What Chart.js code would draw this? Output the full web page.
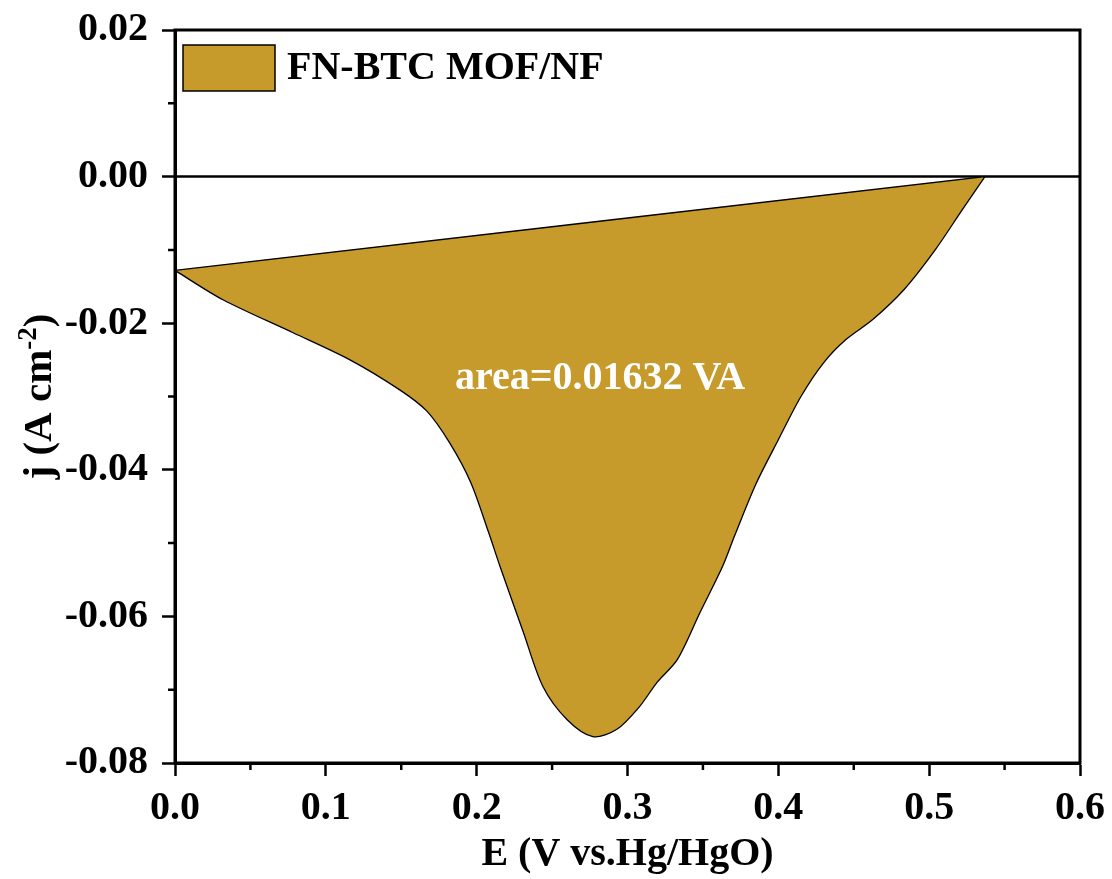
<!DOCTYPE html>
<html>
<head>
<meta charset="utf-8">
<script src="https://cdn.jsdelivr.net/npm/chart.js@4"></script>
<style>
  html, body { margin: 0; padding: 0; background: #fff; }
  canvas { display: block; }
</style>
</head>
<body>
<canvas id="cv" width="1112" height="879"></canvas>
<script>
// lower branch of the LSV loop (E in V, j in A cm-2)
const lowerE = [0, 0.0318, 0.0783, 0.116, 0.149, 0.167, 0.182, 0.196, 0.208, 0.2155,
  0.231, 0.244, 0.260, 0.277, 0.293, 0.308, 0.3196, 0.333, 0.348, 0.363,
  0.371, 0.385, 0.400, 0.415, 0.430, 0.445, 0.4626, 0.4834, 0.504, 0.522, 0.537];
const lowerJ = [-0.0128, -0.0168, -0.0213, -0.0250, -0.0291, -0.0320, -0.0363, -0.0417, -0.0486, -0.0532,
  -0.0622, -0.0696, -0.0741, -0.0764, -0.0754, -0.0723, -0.0690, -0.0659, -0.0595, -0.0532,
  -0.0490, -0.0420, -0.0359, -0.0300, -0.0254, -0.0222, -0.0195, -0.0154, -0.0100, -0.0045, 0];
// straight return branch (end -> start)
const upperE = [0.537, 0];
const upperJ = [0, -0.0128];

const seriesName = "FN-BTC MOF/NF";
const areaLabel = "area=0.01632 VA";
const xTicks = [0, 0.1, 0.2, 0.3, 0.4, 0.5, 0.6];
const yTicks = [0.02, 0, -0.02, -0.04, -0.06, -0.08];

const fillColor = "#C69A2B";
const FONT = "'Liberation Serif', 'Times New Roman', serif";

// build closed outline; ends doubled so the return branch stays straight
const pts = lowerE.map((e, i) => ({ x: e, y: lowerJ[i] }));
pts.push({ x: upperE[0], y: upperJ[0] });
upperE.forEach((e, i) => pts.push({ x: e, y: upperJ[i] }));
pts.push({ x: upperE[1], y: upperJ[1] });

function noOverhang(s) {
  s.paddingTop = 0; s.paddingBottom = 0; s.paddingLeft = 0; s.paddingRight = 0;
}

const extras = {
  id: "extras",
  beforeDatasetsDraw(chart) {
    const { ctx, chartArea: a, scales } = chart;
    const y0 = scales.y.getPixelForValue(0);
    ctx.save();
    ctx.strokeStyle = "#000";
    ctx.lineWidth = 2.5;
    ctx.beginPath();
    ctx.moveTo(a.left, y0);
    ctx.lineTo(a.right, y0);
    ctx.stroke();
    ctx.restore();
  },
  afterDraw(chart) {
    const { ctx, chartArea: a, scales } = chart;
    ctx.save();
    // frame
    ctx.strokeStyle = "#000";
    ctx.lineWidth = 3;
    ctx.strokeRect(a.left, a.top, a.right - a.left, a.bottom - a.top);

    // minor ticks
    ctx.lineWidth = 2.5;
    ctx.beginPath();
    for (let v = 0.05; v < 0.6; v += 0.1) {
      const px = scales.x.getPixelForValue(v);
      ctx.moveTo(px, a.bottom);
      ctx.lineTo(px, a.bottom + 7);
    }
    for (let v = 0.01; v > -0.08; v -= 0.02) {
      const py = scales.y.getPixelForValue(v);
      ctx.moveTo(a.left, py);
      ctx.lineTo(a.left - 7, py);
    }
    ctx.stroke();

    // area text
    ctx.fillStyle = "#fff";
    ctx.font = "bold 40px " + FONT;
    ctx.textAlign = "center";
    ctx.textBaseline = "middle";
    ctx.fillText(areaLabel, scales.x.getPixelForValue(0.2818), scales.y.getPixelForValue(-0.0276));

    // legend
    const lx = a.left + 8, ly = a.top + 15;
    ctx.fillStyle = fillColor;
    ctx.fillRect(lx, ly, 92, 46);
    ctx.lineWidth = 1.5;
    ctx.strokeRect(lx, ly, 92, 46);
    ctx.fillStyle = "#000";
    ctx.textAlign = "left";
    ctx.fillText(seriesName, lx + 104, ly + 24);

    // y title with superscript
    ctx.translate(40, (a.top + a.bottom) / 2);
    ctx.rotate(-Math.PI / 2);
    const main = "j (A cm", sup = "-2", tail = ")";
    ctx.font = "bold 41px " + FONT;
    const w1 = ctx.measureText(main).width, w3 = ctx.measureText(tail).width;
    ctx.font = "bold 27px " + FONT;
    const w2 = ctx.measureText(sup).width;
    let x = -(w1 + w2 + w3) / 2;
    ctx.font = "bold 41px " + FONT;
    ctx.fillText(main, x, 0);
    x += w1;
    ctx.font = "bold 27px " + FONT;
    ctx.fillText(sup, x, -11);
    x += w2;
    ctx.font = "bold 41px " + FONT;
    ctx.fillText(tail, x, 0);
    ctx.restore();
  }
};

new Chart(document.getElementById("cv"), {
  type: "line",
  data: {
    datasets: [{
      label: seriesName,
      data: pts,
      fill: "shape",
      backgroundColor: fillColor,
      borderColor: "#000",
      borderWidth: 1.3,
      pointRadius: 0,
      tension: 0.3
    }]
  },
  options: {
    responsive: false,
    animation: false,
    devicePixelRatio: 1,
    layout: { padding: { top: 30, right: 32, left: 0, bottom: 0 } },
    plugins: { legend: { display: false }, tooltip: { enabled: false } },
    scales: {
      x: {
        type: "linear",
        min: 0, max: 0.6,
        afterBuildTicks: s => { s.ticks = xTicks.map(v => ({ value: v })); },
        afterFit: s => { s.height = 879 - 763; noOverhang(s); },
        ticks: {
          color: "#000",
          padding: 9,
          font: { family: FONT, size: 40, weight: "bold" },
          callback: v => v.toFixed(1)
        },
        grid: { drawOnChartArea: false, drawTicks: true, tickLength: 13, tickWidth: 2.5, tickColor: "#000" },
        border: { display: true, color: "#000", width: 3 },
        title: {
          display: true,
          text: "E (V vs.Hg/HgO)",
          color: "#000",
          font: { family: FONT, size: 40, weight: "bold" },
          padding: { top: 0, bottom: 0 }
        }
      },
      y: {
        min: -0.08, max: 0.02,
        afterBuildTicks: s => { s.ticks = yTicks.map(v => ({ value: v })); },
        afterFit: s => { s.width = 175; noOverhang(s); },
        ticks: {
          color: "#000",
          padding: 14,
          font: { family: FONT, size: 40, weight: "bold" },
          callback: v => (Math.abs(v) < 1e-9 ? 0 : v).toFixed(2)
        },
        grid: { drawOnChartArea: false, drawTicks: true, tickLength: 13, tickWidth: 2.5, tickColor: "#000" },
        border: { display: true, color: "#000", width: 3 }
      }
    }
  },
  plugins: [extras]
});
</script>
</body>
</html>
